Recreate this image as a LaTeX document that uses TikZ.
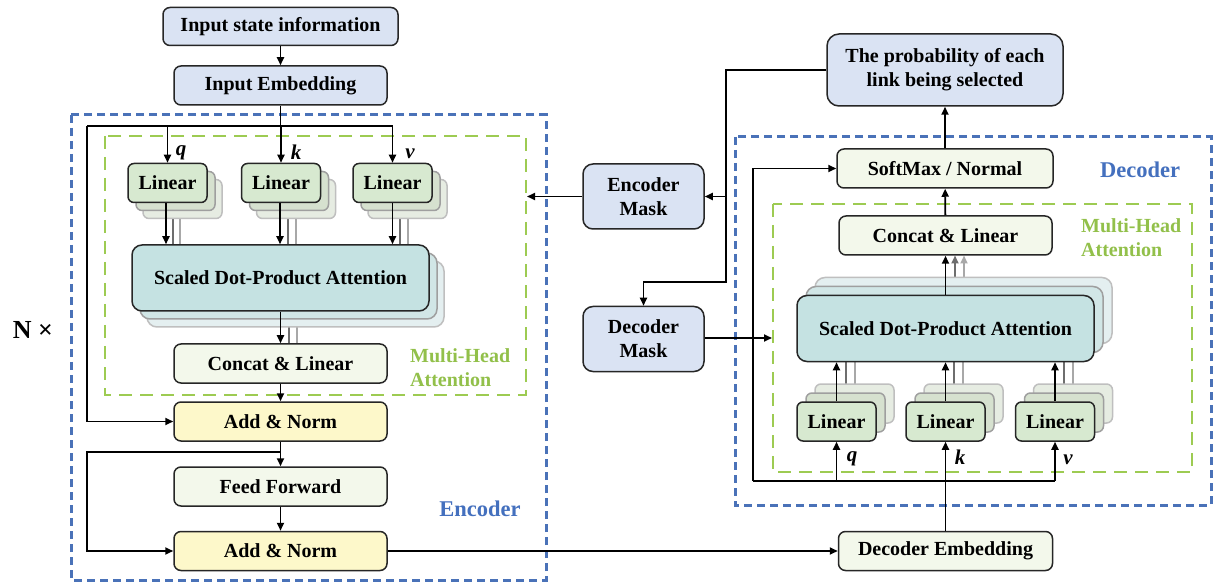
\documentclass[tikz,border=0pt]{standalone}
\usepackage{fontspec}
\setmainfont{Liberation Serif}
\usetikzlibrary{arrows.meta}
\definecolor{edge}{HTML}{262626}
\definecolor{blueF}{HTML}{DAE3F3}
\definecolor{linF}{HTML}{D7E9D0}
\definecolor{linF1}{HTML}{D6E1CF}
\definecolor{linF2}{HTML}{E6ECE2}
\definecolor{sdF}{HTML}{C5E2E2}
\definecolor{sdF1}{HTML}{D1E6E6}
\definecolor{sdF2}{HTML}{E4EFF0}
\definecolor{paleF}{HTML}{F3F8EB}
\definecolor{yelF}{HTML}{FDF8CA}
\definecolor{frameblue}{HTML}{4A72B8}
\definecolor{framegreen}{HTML}{9DCB52}
\definecolor{txtgreen}{HTML}{92C04A}
\definecolor{txtblue}{HTML}{4470BE}
\definecolor{gA}{HTML}{6E6E6E}
\definecolor{gB}{HTML}{A8A8A8}
\tikzset{
  bx/.style={draw=edge, line width=1.5pt, rounded corners=7pt, align=center, inner sep=0pt,
    font=\bfseries\fontsize{20}{24}\selectfont},
  lin/.style={bx, fill=linF, minimum width=79pt, minimum height=39pt, rounded corners=6pt},
  linA/.style={lin, fill=linF1, draw=gray!75},
  linB/.style={lin, fill=linF2, draw=gray!50},
  sdpa/.style={bx, fill=sdF, minimum width=297pt, minimum height=66pt, rounded corners=10pt},
  sdpaA/.style={sdpa, fill=sdF1, draw=gray!75},
  sdpaB/.style={sdpa, fill=sdF2, draw=gray!50},
  wide/.style={bx, minimum width=213pt, minimum height=39pt},
  mask/.style={bx, fill=blueF, minimum width=121pt, minimum height=65pt, rounded corners=10pt},
  ln/.style={line width=1.8pt, draw=black},
  arr/.style={ln, -{Triangle[length=8pt,width=7pt]}},
  gl1/.style={line width=1.8pt, draw=gA},
  gl2/.style={line width=1.8pt, draw=gB},
  ga1/.style={gl1, -{Triangle[length=8pt,width=7pt]}},
  ga2/.style={gl2, -{Triangle[length=8pt,width=7pt]}},
  bluedash/.style={draw=frameblue, line width=3pt, dash pattern=on 8pt off 5pt},
  greendash/.style={draw=framegreen, line width=2.8pt, dash pattern=on 13pt off 8pt},
  lbl/.style={font=\bfseries\itshape\fontsize{21}{24}\selectfont, inner sep=0pt},
  mh/.style={font=\bfseries\fontsize{20}{24}\selectfont, text=txtgreen, align=left, anchor=west, inner sep=0pt},
  part/.style={font=\bfseries\fontsize{22.5}{26}\selectfont, text=txtblue, inner sep=0pt}
}
\begin{document}
\begin{tikzpicture}[x=1pt,y=-1pt]
\useasboundingbox (0,0) rectangle (1213,585);
\fill[white] (0,0) rectangle (1213,585);

% ---------- frames ----------
\draw[bluedash] (71,115) rectangle (546,580);
\draw[greendash] (105,136) rectangle (526,395);
\draw[bluedash] (735,137) rectangle (1211,505);
\draw[greendash] (773,204) rectangle (1192,472);

% ---------- gray background lines (left) ----------
\draw[gl1] (173,191) -- (173,278);
\draw[gl2] (180,199) -- (180,278);
\draw[gl1] (288,191) -- (288,278);
\draw[gl2] (296,199) -- (296,278);
\draw[gl1] (400,191) -- (400,278);
\draw[gl2] (408,199) -- (408,278);
\draw[gl1] (289,286) -- (289,343);
\draw[gl2] (297,294) -- (297,343);
% ---------- gray background lines (right) ----------
\draw[gl1] (846,412) -- (846,328);
\draw[gl2] (855,403) -- (855,328);
\draw[gl1] (954,412) -- (954,328);
\draw[gl2] (963,403) -- (963,328);
\draw[gl1] (1064,412) -- (1064,328);
\draw[gl2] (1073,403) -- (1073,328);
\draw[ga1] (955,319) -- (955,255.5);
\draw[ga2] (964,310) -- (964,255.5);

% ---------- left column ----------
\node[bx, fill=blueF, minimum width=235pt, minimum height=38pt] (inp) at (280.5,26.5) {Input state information};
\node[wide, fill=blueF] (emb) at (280.5,85.5) {Input Embedding};

\node[linB] at (182.5,199) {};
\node[linA] at (175.5,191) {};
\node[lin] (lq) at (167.5,183) {Linear};
\node[linB] at (296,199) {};
\node[linA] at (289,191) {};
\node[lin] (lk) at (281,183) {Linear};
\node[linB] at (407.5,199) {};
\node[linA] at (400.5,191) {};
\node[lin] (lv) at (392.5,183) {Linear};

\node[sdpaB] at (295.5,294) {};
\node[sdpaA] at (288.5,286) {};
\node[sdpa] (lsd) at (280.5,278) {Scaled Dot-Product Attention};

\node[wide, fill=paleF] (lcat) at (280.5,363.5) {Concat \& Linear};
\node[wide, fill=yelF] (an1) at (280.5,421.5) {Add \& Norm};
\node[wide, fill=paleF] (ff) at (280.5,486.5) {Feed Forward};
\node[wide, fill=yelF] (an2) at (280.5,551) {Add \& Norm};

\node[lbl] at (181,153) {q};
\node[lbl] at (296,152) {k};
\node[lbl] at (410,154) {v};

\node[mh] at (410,368) {Multi-Head\\Attention};
\node[part] at (480,509) {Encoder};
\node[font=\bfseries\fontsize{26}{28}\selectfont, inner sep=0pt] (nx) at (33,330) {N ×};

% ---------- right column ----------
\node[bx, fill=blueF, minimum width=236pt, minimum height=72pt, rounded corners=12pt] (prob) at (945,70) {The probability of each\\link being selected};
\node[bx, fill=paleF, minimum width=216pt, minimum height=39pt] (sm) at (945,168.5) {SoftMax / Normal};
\node[wide, fill=paleF] (rcat) at (945.5,235.5) {Concat \& Linear};

\node[sdpaB] at (963.5,310.5) {};
\node[sdpaA] at (954.5,319.5) {};
\node[sdpa] (rsd) at (945.5,328.5) {Scaled Dot-Product Attention};

\node[linB] at (854.5,403.5) {};
\node[linA] at (845.5,412.5) {};
\node[lin] (rq) at (836.5,421.5) {Linear};
\node[linB] at (963.5,403.5) {};
\node[linA] at (954.5,412.5) {};
\node[lin] (rk) at (945.5,421.5) {Linear};
\node[linB] at (1073,403.5) {};
\node[linA] at (1064,412.5) {};
\node[lin] (rv) at (1055,421.5) {Linear};

\node[bx, fill=paleF, minimum width=214pt, minimum height=39pt] (de) at (945.5,551) {Decoder Embedding};

\node[mask] (emask) at (643.5,196.5) {Encoder\\Mask};
\node[mask] (dmask) at (643.5,339) {Decoder\\Mask};

\node[lbl] at (852,459) {q};
\node[lbl] at (960,457) {k};
\node[lbl] at (1068,460) {v};

\node[mh] at (1081,238) {Multi-Head\\Attention};
\node[part] at (1140,170) {Decoder};

% ---------- left connectors ----------
\coordinate (jL) at (87,126);
\coordinate (jR) at (392.5,126);
\coordinate (jL2) at (87,452);
\draw[arr] (inp) -- (emb);
\draw[ln] (emb.south) -- (emb.south |- jL);
\draw[ln] (jL) -- (jR);
\draw[arr] (lq.north |- jL) -- (lq.north);
\draw[arr] (lk.north |- jL) -- (lk.north);
\draw[arr] (jR) -- (lv.north);
\draw[arr] (jL) |- (an1.west);
\draw[arr] ([xshift=-1.5pt]lq.south) -- ([xshift=-1.5pt]lq.south |- lsd.north);
\draw[arr] ([xshift=-1pt]lk.south) -- ([xshift=-1pt]lk.south |- lsd.north);
\draw[arr] (lv.south) -- (lv.south |- lsd.north);
\draw[arr] (lsd.south) -- (lcat.north);
\draw[arr] (lcat) -- (an1);
\draw[arr] (an1) -- (ff);
\draw[arr] (an1.south |- jL2) -- (jL2) |- (an2.west);
\draw[arr] (ff) -- (an2);
\draw[arr] (an2.east) -- (de.west);

% ---------- mask connectors ----------
\coordinate (m1) at (726,70);
\coordinate (m2) at (726,282);
\coordinate (lg) at (527,196.5);
\coordinate (rg) at (772,338);
\draw[arr] (prob.west) -- (m1) -- (m2) -| (dmask.north);
\draw[arr] (m1 |- emask.east) -- (emask.east);
\draw[arr] (emask.west) -- (lg);
\draw[arr] (dmask.east |- rg) -- (rg);

% ---------- right connectors ----------
\coordinate (r0) at (753,481);
\coordinate (r1) at (1055,481);
\draw[ln] (r0) -- (r1);
\draw[arr] (r0) |- (sm.west);
\draw[arr] (rq.south |- r0) -- (rq.south);
\draw[arr] (r1) -- (rv.south);
\draw[arr] (de.north) -- (rk.south);
\draw[arr] (rq.north) -- (rq.north |- rsd.south);
\draw[arr] (rk.north) -- (rk.north |- rsd.south);
\draw[arr] (rv.north) -- (rv.north |- rsd.south);
\draw[arr] (rsd.north) -- (rcat.south);
\draw[arr] (rcat) -- (sm);
\draw[arr] (sm) -- (prob);
\end{tikzpicture}
\end{document}
